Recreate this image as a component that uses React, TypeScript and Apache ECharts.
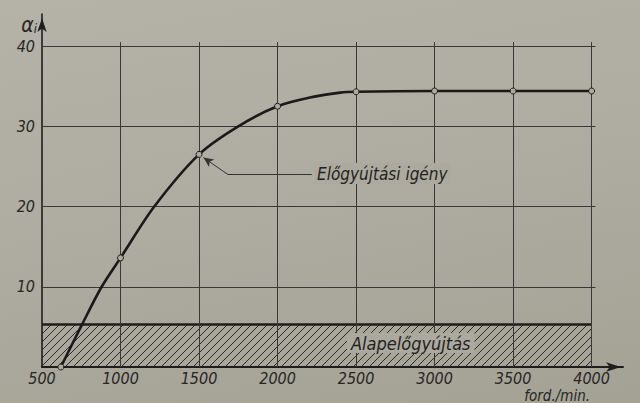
import React, { useEffect, useRef } from "react";
import * as echarts from "echarts";

// Ignition advance demand curve (rpm -> degrees)
const rpm = [620, 750, 880, 1000, 1215, 1500, 1750, 2000, 2235, 2400, 2500, 3000, 3500, 4000];
const advance = [0, 5.1, 10, 13.6, 20, 26.5, 30, 32.5, 33.7, 34.2, 34.3, 34.4, 34.4, 34.4];
const markedPoint = [true, false, false, true, false, true, false, true, false, false, true, true, true, true];

// Basic (fixed) advance band
const baseRpm = [500, 4000];
const baseAdvance = [5.3, 5.3];

// Grid lines / ticks
const xGridValues = [1000, 1500, 2000, 2500, 3000, 3500, 4000];
const yGridValues = [10, 20, 30, 40];
const xMin = 500;
const xMax = 4200;
const yMin = 0;
const yMax = 44;
const gridXEnd = 4025;
const gridYEnd = 40.5;

// Leader line of the annotation (rpm, advance)
const leaderRpm = [2218, 1684, 1528];
const leaderAdvance = [24.0, 24.0, 26.1];

const FONT = "'DejaVu Sans Condensed', 'DejaVu Sans', sans-serif";
const INK = "#1e1e1e";
const PAPER = "#aca99e";

export default function App() {
  const ref = useRef<HTMLDivElement>(null);
  useEffect(() => {
    if (!ref.current) return;
    const chart = echarts.init(ref.current, undefined, { renderer: "svg" });

    const c = document.createElement("canvas");
    c.width = 8;
    c.height = 8;
    const g = c.getContext("2d")!;
    g.strokeStyle = "rgba(30,30,30,0.9)";
    g.lineWidth = 1;
    g.beginPath();
    g.moveTo(-1, 9);
    g.lineTo(9, -1);
    g.moveTo(-1, 1);
    g.lineTo(1, -1);
    g.moveTo(7, 9);
    g.lineTo(9, 7);
    g.stroke();

    const gridLines = [
      ...yGridValues.map((v) => [{ coord: [xMin, v] }, { coord: [gridXEnd, v] }]),
      ...xGridValues.map((v) => [{ coord: [v, yMin] }, { coord: [v, gridYEnd] }]),
    ];

    const leader = [
      [
        { coord: [leaderRpm[0], leaderAdvance[0]], symbol: "none" },
        { coord: [leaderRpm[1], leaderAdvance[1]], symbol: "none" },
      ],
      [
        { coord: [leaderRpm[1], leaderAdvance[1]], symbol: "none" },
        { coord: [leaderRpm[2], leaderAdvance[2]], symbol: "arrow", symbolSize: [7, 10] },
      ],
    ];

    const labelStyle = {
      fontSize: 16,
      fontStyle: "italic" as const,
      fontFamily: FONT,
      color: "#262626",
    };

    chart.setOption({
      animation: false,
      backgroundColor: "transparent",
      grid: { left: 42, right: 17, top: 14, bottom: 36 },
      xAxis: {
        type: "value",
        min: xMin,
        max: xMax,
        interval: 500,
        axisLine: {
          show: true,
          symbol: ["none", "arrow"],
          symbolSize: [7, 15],
          symbolOffset: [0, -2],
          lineStyle: { color: INK, width: 2 },
        },
        axisTick: { show: false },
        splitLine: { show: false },
        axisLabel: {
          ...labelStyle,
          margin: 3,
          formatter: (v: number) => (v <= 4000 ? String(v) : ""),
        },
      },
      yAxis: {
        type: "value",
        min: yMin,
        max: yMax,
        interval: 10,
        name: "{a|α}{b|i}",
        nameLocation: "end",
        nameGap: -21,
        nameTextStyle: {
          align: "right",
          padding: [0, 5, 0, 0],
          rich: {
            a: { fontSize: 21, fontStyle: "italic", fontFamily: FONT, color: "#262626" },
            b: { fontSize: 13, fontStyle: "italic", fontFamily: FONT, color: "#262626", padding: [8, 0, 0, 0] },
          },
        },
        axisLine: {
          show: true,
          onZero: false,
          symbol: ["none", "arrow"],
          symbolSize: [7, 14],
          symbolOffset: [0, -4],
          lineStyle: { color: INK, width: 1.6 },
        },
        axisTick: { show: false },
        splitLine: { show: false },
        axisLabel: {
          ...labelStyle,
          margin: 7,
          formatter: (v: number) => (v > 0 && v % 10 === 0 && v <= 40 ? String(v) : ""),
        },
      },
      series: [
        {
          type: "line",
          name: "Alapelőgyújtás",
          data: baseRpm.map((x, i) => [x, baseAdvance[i]]),
          symbol: "none",
          silent: true,
          z: 2,
          lineStyle: { color: INK, width: 2.6 },
          areaStyle: { color: { image: c, repeat: "repeat" }, opacity: 1 },
          markLine: {
            silent: true,
            symbol: ["none", "none"],
            label: { show: false },
            lineStyle: { color: "#383838", width: 1, type: "solid" },
            emphasis: { disabled: true },
            data: gridLines,
          },
        },
        {
          type: "line",
          name: "Előgyújtási igény",
          data: rpm.map((x, i) => ({
            value: [x, advance[i]],
            symbol: markedPoint[i] ? "circle" : "none",
          })),
          smooth: 0.3,
          symbolSize: 6,
          silent: true,
          z: 5,
          itemStyle: { color: PAPER, borderColor: INK, borderWidth: 1 },
          lineStyle: { color: "#1a1a1a", width: 2.6 },
          markLine: {
            silent: true,
            symbol: ["none", "arrow"],
            label: { show: false },
            lineStyle: { color: "#333", width: 1, type: "solid" },
            emphasis: { disabled: true },
            data: leader,
          },
        },
      ],
      graphic: [
        {
          type: "text",
          left: 314,
          top: 163,
          z: 10,
          style: {
            text: "Előgyújtási igény",
            fontSize: 17,
            fontStyle: "italic",
            fontFamily: FONT,
            fill: "#222",
            backgroundColor: PAPER,
            padding: [2, 3, 2, 3],
          },
        },
        {
          type: "text",
          left: 347,
          top: 333,
          z: 10,
          style: {
            text: "Alapelőgyújtás",
            fontSize: 18,
            fontStyle: "italic",
            fontFamily: FONT,
            fill: "#222",
            backgroundColor: PAPER,
            padding: [1, 4, 1, 4],
          },
        },
        {
          type: "text",
          right: 50,
          top: 388,
          z: 10,
          style: {
            text: "ford./min.",
            fontSize: 15,
            fontStyle: "italic",
            fontFamily: FONT,
            fill: "#262626",
          },
        },
      ],
    });
    return () => chart.dispose();
  }, []);

  return (
    <div
      ref={ref}
      style={{
        position: "fixed",
        left: 0,
        top: 0,
        width: 640,
        height: 403,
        background: "linear-gradient(170deg, #b5b2a8 0%, #aeaba0 50%, #a4a195 100%)",
      }}
    />
  );
}
